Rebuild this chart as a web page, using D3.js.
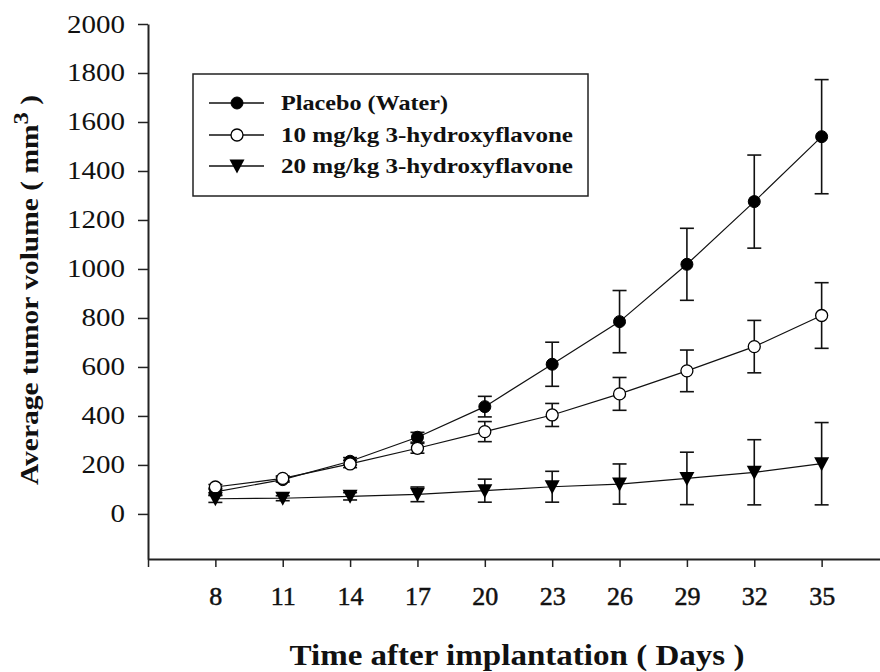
<!DOCTYPE html>
<html>
<head>
<meta charset="utf-8">
<script src="https://cdn.jsdelivr.net/npm/d3@7"></script>
<style>
  html, body { margin: 0; padding: 0; background: #fff; }
  svg { display: block; }
</style>
</head>
<body>
<svg id="chart" width="880" height="672"></svg>
<script>
// ---- data ----
const days = [8, 11, 14, 17, 20, 23, 26, 29, 32, 35];
const xTickValues = [5, 8, 11, 14, 17, 20, 23, 26, 29, 32, 35, 38];
const xTickLabels = ["", "8", "11", "14", "17", "20", "23", "26", "29", "32", "35", ""];
const yTickValues = [0, 200, 400, 600, 800, 1000, 1200, 1400, 1600, 1800, 2000];

const seriesNames = ["Placebo (Water)", "10 mg/kg 3-hydroxyflavone", "20 mg/kg 3-hydroxyflavone"];
const placebo    = [90, 140, 215, 313, 438, 611, 785, 1019, 1275, 1540];
const placeboErr = [15, 10, 15, 20, 42, 90, 127, 147, 190, 233];
const dose10     = [110, 145, 204, 268, 336, 404, 490, 584, 683, 810];
const dose10Err  = [10, 10, 15, 20, 41, 47, 67, 85, 107, 134];
const dose20     = [62, 64, 72, 80, 95, 111, 122, 145, 170, 205];
const dose20Err  = [15, 10, 15, 30, 47, 63, 82, 107, 133, 168];

const markerTypes = ["filledCircle", "openCircle", "triangleDown"];

const series = [
  { name: seriesNames[0], values: placebo, errors: placeboErr, marker: markerTypes[0] },
  { name: seriesNames[1], values: dose10, errors: dose10Err, marker: markerTypes[1] },
  { name: seriesNames[2], values: dose20, errors: dose20Err, marker: markerTypes[2] }
];

// ---- layout ----
const svg = d3.select("#chart");
const x = d3.scaleLinear().domain([5, 38]).range([148, 889]);
const y = d3.scaleLinear().domain([-184, 2000]).range([559, 24]);
const serif = "'Liberation Serif', 'Times New Roman', serif";

// axes
const yAxis = d3.axisLeft(y).tickValues(yTickValues).tickSize(10).tickSizeOuter(0).tickPadding(13).tickFormat(d3.format("d"));
const gy = svg.append("g").attr("transform", `translate(${x(5)},0)`).call(yAxis);
gy.select(".domain").attr("stroke", "#222").attr("stroke-width", 2);
gy.selectAll(".tick line").attr("stroke", "#222").attr("stroke-width", 1.5);
gy.selectAll(".tick text")
  .attr("font-family", serif).attr("font-size", 25).attr("fill", "#111")
  .attr("textLength", d => String(d).length * 14.5)
  .attr("lengthAdjust", "spacingAndGlyphs");

const xAxis = d3.axisBottom(x).tickValues(xTickValues).tickSize(8).tickSizeOuter(0).tickPadding(20)
  .tickFormat((d, i) => xTickLabels[i]);
const gx = svg.append("g").attr("transform", `translate(0,${y(-184)})`).call(xAxis);
gx.select(".domain").attr("stroke", "#222").attr("stroke-width", 2);
gx.selectAll(".tick text")
  .attr("font-family", serif).attr("font-size", 26).attr("fill", "#111")
  .attr("stroke", "#111").attr("stroke-width", 0.5);
gx.selectAll(".tick line").attr("stroke", "#222").attr("stroke-width", 1.5);

// axis titles
svg.append("text")
  .attr("x", 517).attr("y", 665)
  .attr("text-anchor", "middle")
  .attr("font-family", serif).attr("font-size", 30).attr("font-weight", "bold").attr("fill", "#111")
  .attr("textLength", 455).attr("lengthAdjust", "spacingAndGlyphs")
  .text("Time after implantation ( Days )");

const yt = svg.append("text")
  .attr("transform", "translate(38,290) rotate(-90)")
  .attr("text-anchor", "middle")
  .attr("font-family", serif).attr("font-size", 25).attr("font-weight", "bold").attr("fill", "#111")
  .attr("textLength", 390).attr("lengthAdjust", "spacingAndGlyphs");
yt.append("tspan").text("Average tumor volume ( mm");
yt.append("tspan").attr("dy", -10).attr("font-size", 21).text("3");
yt.append("tspan").attr("dy", 10).text(" )");

// lines
const line = d3.line().x((d, i) => x(days[i])).y(d => y(d));
series.forEach(s => {
  svg.append("path").datum(s.values)
    .attr("d", line).attr("fill", "none").attr("stroke", "#111").attr("stroke-width", 1.2);
});

// error bars
const capW = 7;
series.forEach(s => {
  const g = svg.append("g").attr("stroke", "#111").attr("stroke-width", 1.6);
  s.values.forEach((v, i) => {
    const cx = x(days[i]);
    const top = y(v + s.errors[i]), bot = y(v - s.errors[i]);
    g.append("line").attr("x1", cx).attr("x2", cx).attr("y1", top).attr("y2", bot);
    g.append("line").attr("x1", cx - capW).attr("x2", cx + capW).attr("y1", top).attr("y2", top);
    g.append("line").attr("x1", cx - capW).attr("x2", cx + capW).attr("y1", bot).attr("y2", bot);
  });
});

// markers
function drawMarker(g, type, cx, cy) {
  if (type === "filledCircle") {
    g.append("circle").attr("cx", cx).attr("cy", cy).attr("r", 6).attr("fill", "#000").attr("stroke", "#000");
  } else if (type === "openCircle") {
    g.append("circle").attr("cx", cx).attr("cy", cy).attr("r", 6).attr("fill", "#fff").attr("stroke", "#000").attr("stroke-width", 1.3);
  } else {
    const w = 7.5, h = 6.5;
    g.append("path")
      .attr("d", `M${cx - w},${cy - h}L${cx + w},${cy - h}L${cx},${cy + h + 1}Z`)
      .attr("fill", "#000");
  }
}
series.forEach(s => {
  const g = svg.append("g");
  s.values.forEach((v, i) => drawMarker(g, s.marker, x(days[i]), y(v)));
});

// legend
const leg = svg.append("g");
leg.append("rect").attr("x", 193).attr("y", 74).attr("width", 395).attr("height", 122)
  .attr("fill", "#fff").attr("stroke", "#222").attr("stroke-width", 1.5);
const legendRowY = [103, 135, 166];
const legendTextLen = [167, 292, 292];
series.forEach((s, i) => {
  const ry = legendRowY[i];
  leg.append("line").attr("x1", 209).attr("x2", 264).attr("y1", ry).attr("y2", ry)
    .attr("stroke", "#111").attr("stroke-width", 1.5);
  drawMarker(leg, s.marker, 237, ry);
  leg.append("text").attr("x", 281).attr("y", ry + 7)
    .attr("font-family", serif).attr("font-size", 21).attr("font-weight", "bold").attr("fill", "#111")
    .attr("textLength", legendTextLen[i]).attr("lengthAdjust", "spacingAndGlyphs")
    .text(s.name);
});
</script>
</body>
</html>
